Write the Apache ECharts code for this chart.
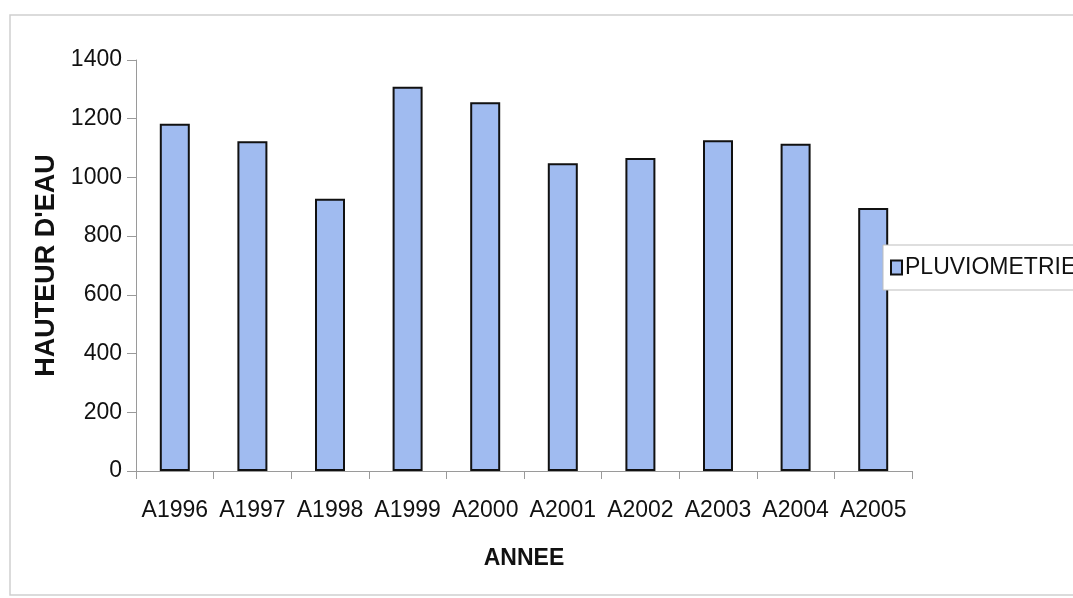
<!DOCTYPE html>
<html>
<head>
<meta charset="utf-8">
<script src="https://cdn.jsdelivr.net/npm/echarts@6/dist/echarts.min.js"></script>
<style>
  html, body { margin: 0; padding: 0; background: #fff; }
  #chart { width: 1073px; height: 598px; }
</style>
</head>
<body>
<div id="chart"></div>
<script>
// Annual rainfall (water height) per year
const years = ['A1996', 'A1997', 'A1998', 'A1999', 'A2000', 'A2001', 'A2002', 'A2003', 'A2004', 'A2005'];
const pluviometrie = [1183, 1123, 927, 1309, 1256, 1048, 1066, 1127, 1115, 896];
const yTicks = { min: 0, max: 1400, step: 200 };

const chart = echarts.init(document.getElementById('chart'));
const font = 'Arial, "Liberation Sans", sans-serif';

chart.setOption({
  backgroundColor: '#ffffff',
  animation: false,
  graphic: [{
    type: 'rect',
    shape: { x: 10, y: 15, width: 1080, height: 580 },
    style: { fill: 'none', stroke: '#cfcfcf', lineWidth: 1.5 },
    silent: true,
    z: -1
  }],
  grid: { left: 136, right: 161, top: 60, bottom: 127, containLabel: false },
  legend: {
    data: ['PLUVIOMETRIE'],
    orient: 'vertical',
    left: 883,
    top: 245,
    padding: [11, 30, 11, 7],
    itemWidth: 11,
    itemHeight: 14,
    itemGap: 4,
    icon: 'rect',
    borderColor: '#bdbdbd',
    borderWidth: 1,
    backgroundColor: '#ffffff',
    textStyle: { fontFamily: font, fontSize: 23, color: '#111', padding: [0, 0, 0, -2] }
  },
  xAxis: {
    type: 'category',
    data: years,
    name: 'ANNEE',
    nameLocation: 'middle',
    nameGap: 76,
    nameTextStyle: { fontFamily: font, fontSize: 23, fontWeight: 'bold', color: '#111' },
    axisLine: { lineStyle: { color: '#9a9a9a', width: 1 } },
    axisTick: { show: true, length: 8, lineStyle: { color: '#9a9a9a' } },
    axisLabel: { fontFamily: font, fontSize: 23, color: '#111', margin: 28, interval: 0 },
    splitLine: { show: false }
  },
  yAxis: {
    type: 'value',
    min: yTicks.min,
    max: yTicks.max,
    interval: yTicks.step,
    name: "HAUTEUR D'EAU",
    nameLocation: 'middle',
    nameGap: 72,
    nameTextStyle: { fontFamily: font, fontSize: 27, fontWeight: 'bold', color: '#111' },
    axisLine: { show: true, lineStyle: { color: '#9a9a9a', width: 1 } },
    axisTick: { show: true, length: 9, lineStyle: { color: '#9a9a9a' } },
    axisLabel: { fontFamily: font, fontSize: 23, color: '#111', margin: 14, formatter: v => String(v) },
    splitLine: { show: false }
  },
  series: [{
    name: 'PLUVIOMETRIE',
    type: 'bar',
    data: pluviometrie,
    barWidth: 30,
    itemStyle: { color: '#a0bbf0', borderColor: '#111111', borderWidth: 2 }
  }]
});
</script>
</body>
</html>
